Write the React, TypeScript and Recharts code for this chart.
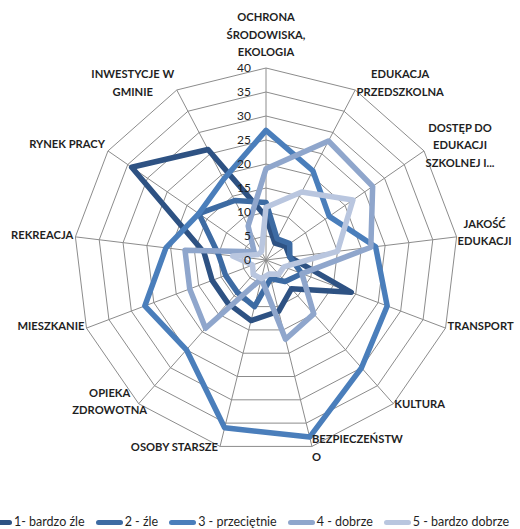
import React from 'react';
import { RadarChart, Radar, PolarGrid, PolarAngleAxis, PolarRadiusAxis, Legend } from 'recharts';

const categories = [
  'OCHRONA ŚRODOWISKA, EKOLOGIA',
  'EDUKACJA PRZEDSZKOLNA',
  'DOSTĘP DO EDUKACJI SZKOLNEJ I...',
  'JAKOŚĆ EDUKACJI',
  'TRANSPORT',
  'KULTURA',
  'BEZPIECZEŃSTWO',
  'OSOBY STARSZE',
  'OPIEKA ZDROWOTNA',
  'MIESZKANIE',
  'REKREACJA',
  'RYNEK PRACY',
  'INWESTYCJE W GMINIE',
];

const tickLabels = [
  'OCHRONA\nŚRODOWISKA,\nEKOLOGIA',
  'EDUKACJA\nPRZEDSZKOLNA',
  'DOSTĘP DO\nEDUKACJI\nSZKOLNEJ I...',
  'JAKOŚĆ\nEDUKACJI',
  'TRANSPORT',
  'KULTURA',
  'BEZPIECZEŃSTW\nO',
  'OSOBY STARSZE',
  'OPIEKA\nZDROWOTNA',
  'MIESZKANIE',
  'REKREACJA',
  'RYNEK PRACY',
  'INWESTYCJE W\nGMINIE',
];

const seriesNames = ['1- bardzo źle', '2 - źle', '3 - przeciętnie', '4 - dobrze', '5 - bardzo dobrze'];

const bardzoZle = [9, 4, 5, 5, 19, 8, 11, 13, 12, 12, 13, 34, 26];
const zle = [12, 5, 6, 5, 8, 6, 4, 10, 9, 9, 10, 17, 14];
const przecietnie = [27, 21, 16, 23, 27, 30, 38, 36, 25, 27, 21, 17, 19];
const dobrze = [19, 28, 27, 22, 8, 15, 17, 4, 19, 17, 17, 3, 8];
const bardzoDobrze = [11, 16, 22, 15, 4, 4, 3, 4, 4, 3, 7, 2, 2];

const radiusTicks = [0, 5, 10, 15, 20, 25, 30, 35, 40];

const seriesValues = [bardzoZle, zle, przecietnie, dobrze, bardzoDobrze];
const colors = ['#2e5283', '#3d6ba3', '#4a7ebb', '#8fa6cc', '#b9c6df'];
const keys = ['s1', 's2', 's3', 's4', 's5'];

const data = categories.map((c, i) => {
  const row: Record<string, any> = { name: c };
  keys.forEach((k, j) => { row[k] = seriesValues[j][i]; });
  return row;
});

if (typeof document !== 'undefined') {
  document.body.style.margin = '0';
  document.body.style.overflow = 'hidden';
}

const W = 520;
const H = 529;
const CX = 266;
const CY = 260;
const R = 192;
const FONT = 'Lato, "Open Sans", sans-serif';

// label placement relative to vertex: [anchor, dx, dyFirstLineCenter]
const labelPlace: [string, number, number][] = [
  ['middle', 0, -51],
  ['middle', 45, -16],
  ['middle', 36, -23],
  ['middle', 28, -13],
  ['start', 2, -2],
  ['start', 1, 0],
  ['start', 0, -7],
  ['end', -2, 1],
  ['middle', -29, -11],
  ['end', -2, -2],
  ['end', -2, -2],
  ['end', -3, -7],
  ['middle', -44, -16],
];

const AngleTick = (props: any) => {
  const { payload, index } = props;
  const ang = (payload.coordinate * Math.PI) / 180;
  const vx = CX + R * Math.cos(-ang);
  const vy = CY + R * Math.sin(-ang);
  const [anchor, dx, dy] = labelPlace[index] || ['middle', 0, 0];
  const lines = tickLabels[index].split('\n');
  const fs = 11.2;
  return (
    <text x={vx + dx} y={vy + dy} textAnchor={anchor as any} fontFamily={FONT} fontWeight={700} fontSize={fs} fill="#1f1f1f">
      {lines.map((l, i) => (
        <tspan key={i} x={vx + dx} y={vy + dy + i * 17.5 + fs * 0.36}>{l}</tspan>
      ))}
    </text>
  );
};

const RadiusTick = (props: any) => {
  const { x, y, payload } = props;
  return (
    <text x={x - 15} y={y + 4} textAnchor="end" fontFamily={FONT} fontSize={12} fill="#1f1f1f">
      {payload.value}
    </text>
  );
};

const LegendContent = () => (
  <div style={{ display: 'flex', alignItems: 'center', fontFamily: FONT, fontSize: 12.5, lineHeight: '14px', color: '#1f1f1f', whiteSpace: 'nowrap' }}>
    {seriesNames.map((n, i) => (
      <div key={i} style={{ display: 'flex', alignItems: 'center', marginRight: 11 }}>
        <div style={{ width: 27, height: 5, borderRadius: 3, background: colors[i], marginRight: 2 }} />
        <span>{n}</span>
      </div>
    ))}
  </div>
);

export default function App() {
  return (
    <div style={{ width: W, height: H, position: 'relative', overflow: 'hidden' }}>
      <RadarChart
        width={W}
        height={H}
        data={data}
        cx={CX}
        cy={CY}
        outerRadius={R}
        startAngle={90}
        endAngle={-270}
        margin={{ top: 0, right: 0, bottom: 0, left: 0 }}
      >
        <PolarGrid gridType="polygon" stroke="#8c8c8c" strokeWidth={1} />
        <PolarAngleAxis dataKey="name" tick={<AngleTick />} tickLine={false} axisLine={false} />
        <PolarRadiusAxis angle={90} domain={[0, 40]} ticks={radiusTicks} tick={<RadiusTick />} axisLine={false} tickLine={false} />
        {keys.map((k, i) => (
          <Radar
            key={k}
            name={seriesNames[i]}
            dataKey={k}
            stroke={colors[i]}
            strokeWidth={5.5}
            strokeLinejoin="round"
            fill="none"
            fillOpacity={0}
            dot={false}
            isAnimationActive={false}
          />
        ))}
        <Legend content={<LegendContent />} wrapperStyle={{ position: 'absolute', left: -15, top: 515, width: 560, height: 14, bottom: 'auto' }} />
      </RadarChart>
    </div>
  );
}
